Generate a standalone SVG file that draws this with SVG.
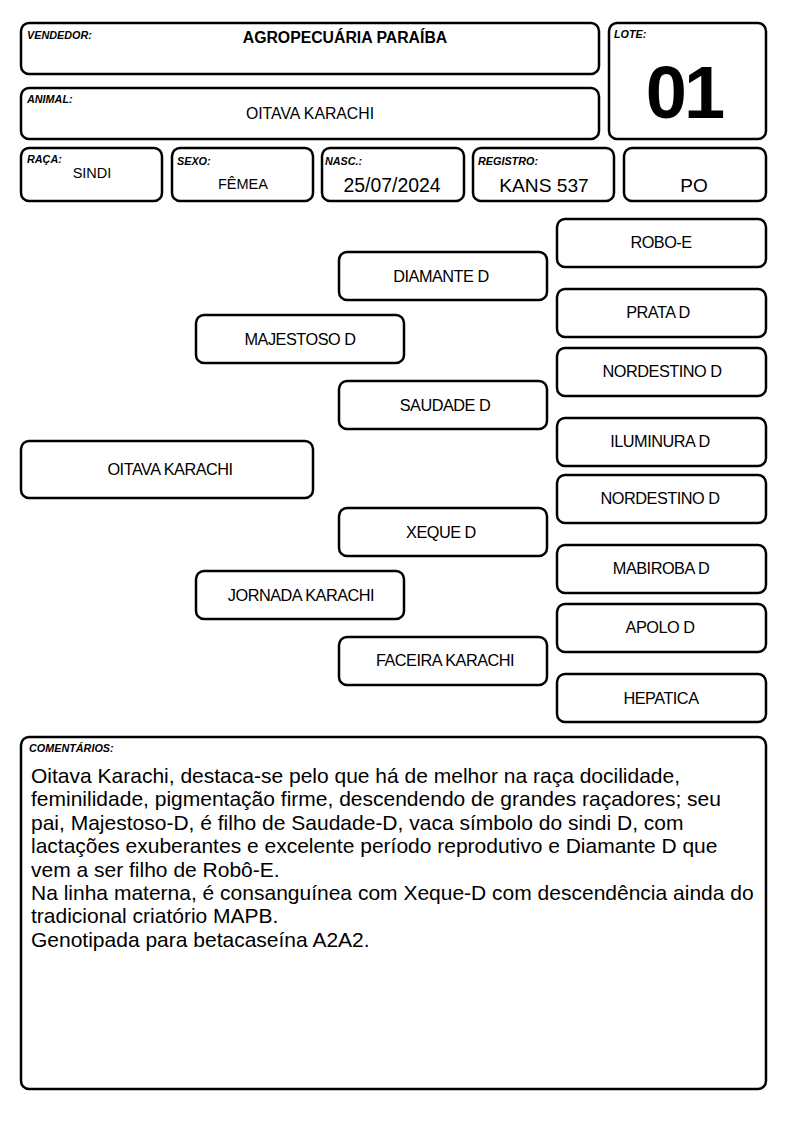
<svg xmlns="http://www.w3.org/2000/svg" width="794" height="1123" viewBox="0 0 794 1123">
<style>
.b{fill:#fff;stroke:#000;stroke-width:2.5}
.lbl{font-family:"Liberation Sans",Arial,sans-serif;font-size:10.8px;font-weight:bold;font-style:italic;fill:#000}
.t{font-family:"Liberation Sans",Arial,sans-serif;fill:#000;text-anchor:middle}
.p{font-family:"Liberation Sans",Arial,sans-serif;font-size:16.3px;fill:#000;text-anchor:middle;letter-spacing:-0.5px}
.c{font-family:"Liberation Sans",Arial,sans-serif;font-size:21px;fill:#000}
</style>
<rect width="794" height="1123" fill="#fff"/>
<g id="vendedor"><rect class="b" x="21" y="23" width="578" height="51" rx="8"/><text class="lbl" x="27" y="39">VENDEDOR:</text><text class="t" x="345" y="43" font-size="15.8" font-weight="bold">AGROPECUÁRIA PARAÍBA</text></g>
<g id="animal"><rect class="b" x="21" y="88" width="578" height="51" rx="8"/><text class="lbl" x="27" y="103">ANIMAL:</text><text class="t" x="310" y="119" font-size="15.8">OITAVA KARACHI</text></g>
<g id="lote"><rect class="b" x="609" y="23" width="157" height="116" rx="8"/><text class="lbl" x="614" y="38">LOTE:</text><text class="t" x="684" y="118" font-size="74" font-weight="bold" letter-spacing="-3">01</text></g>
<g id="raca"><rect class="b" x="21" y="148" width="141" height="53" rx="8"/><text class="lbl" x="27" y="163">RAÇA:</text><text class="t" x="92" y="178" font-size="14.5">SINDI</text></g>
<g id="sexo"><rect class="b" x="172" y="148" width="141" height="53" rx="8"/><text class="lbl" x="177" y="165">SEXO:</text><text class="t" x="243" y="189" font-size="14.5">FÊMEA</text></g>
<g id="nasc"><rect class="b" x="322" y="148" width="142" height="53" rx="8"/><text class="lbl" x="325" y="165">NASC.:</text><text class="t" x="392" y="192" font-size="19.4">25/07/2024</text></g>
<g id="registro"><rect class="b" x="473" y="148" width="141" height="53" rx="8"/><text class="lbl" x="478" y="165">REGISTRO:</text><text class="t" x="544" y="192" font-size="19.2">KANS 537</text></g>
<g id="po"><rect class="b" x="624" y="148" width="142" height="53" rx="8"/><text class="t" x="694" y="192" font-size="19">PO</text></g>
<g id="connectors"></g>
<g id="n-oitava"><rect class="b" x="21" y="441" width="292" height="57" rx="8"/><text class="p" x="170" y="475">OITAVA KARACHI</text></g>
<g id="n-majestoso"><rect class="b" x="196" y="315" width="208" height="48" rx="8"/><text class="p" x="300" y="345">MAJESTOSO D</text></g>
<g id="n-jornada"><rect class="b" x="196" y="571" width="208" height="48" rx="8"/><text class="p" x="301" y="601">JORNADA KARACHI</text></g>
<g id="n-diamante"><rect class="b" x="339" y="252" width="208" height="48" rx="8"/><text class="p" x="441" y="282">DIAMANTE D</text></g>
<g id="n-saudade"><rect class="b" x="339" y="381" width="208" height="48" rx="8"/><text class="p" x="445" y="411">SAUDADE D</text></g>
<g id="n-xeque"><rect class="b" x="339" y="508" width="208" height="48" rx="8"/><text class="p" x="441" y="538">XEQUE D</text></g>
<g id="n-faceira"><rect class="b" x="339" y="637" width="208" height="48" rx="8"/><text class="p" x="445" y="666">FACEIRA KARACHI</text></g>
<g id="n-robo"><rect class="b" x="557" y="219" width="209" height="48" rx="8"/><text class="p" x="661" y="248">ROBO-E</text></g>
<g id="n-prata"><rect class="b" x="557" y="289" width="209" height="48" rx="8"/><text class="p" x="658" y="318">PRATA D</text></g>
<g id="n-nordestino1"><rect class="b" x="557" y="348" width="209" height="48" rx="8"/><text class="p" x="662" y="377">NORDESTINO D</text></g>
<g id="n-iluminura"><rect class="b" x="557" y="418" width="209" height="48" rx="8"/><text class="p" x="660" y="447">ILUMINURA D</text></g>
<g id="n-nordestino2"><rect class="b" x="557" y="475" width="209" height="48" rx="8"/><text class="p" x="660" y="504">NORDESTINO D</text></g>
<g id="n-mabiroba"><rect class="b" x="557" y="545" width="209" height="48" rx="8"/><text class="p" x="661" y="574">MABIROBA D</text></g>
<g id="n-apolo"><rect class="b" x="557" y="604" width="209" height="48" rx="8"/><text class="p" x="660" y="633">APOLO D</text></g>
<g id="n-hepatica"><rect class="b" x="557" y="674" width="209" height="48" rx="8"/><text class="p" x="661" y="704">HEPATICA</text></g>
<g id="comentarios"><rect class="b" x="21" y="737" width="745" height="352" rx="8"/><text class="lbl" x="29" y="752">COMENTÁRIOS:</text>
<text class="c" x="31" y="783">Oitava Karachi, destaca-se pelo que há de melhor na raça docilidade,</text>
<text class="c" x="31" y="806.4">feminilidade, pigmentação firme, descendendo de grandes raçadores; seu</text>
<text class="c" x="31" y="829.8">pai, Majestoso-D, é filho de Saudade-D, vaca símbolo do sindi D, com</text>
<text class="c" x="31" y="853.2">lactações exuberantes e excelente período reprodutivo e Diamante D que</text>
<text class="c" x="31" y="876.6">vem a ser filho de Robô-E.</text>
<text class="c" x="31" y="900">Na linha materna, é consanguínea com Xeque-D com descendência ainda do</text>
<text class="c" x="31" y="923.4">tradicional criatório MAPB.</text>
<text class="c" x="31" y="946.8">Genotipada para betacaseína A2A2.</text>
</g>
</svg>
